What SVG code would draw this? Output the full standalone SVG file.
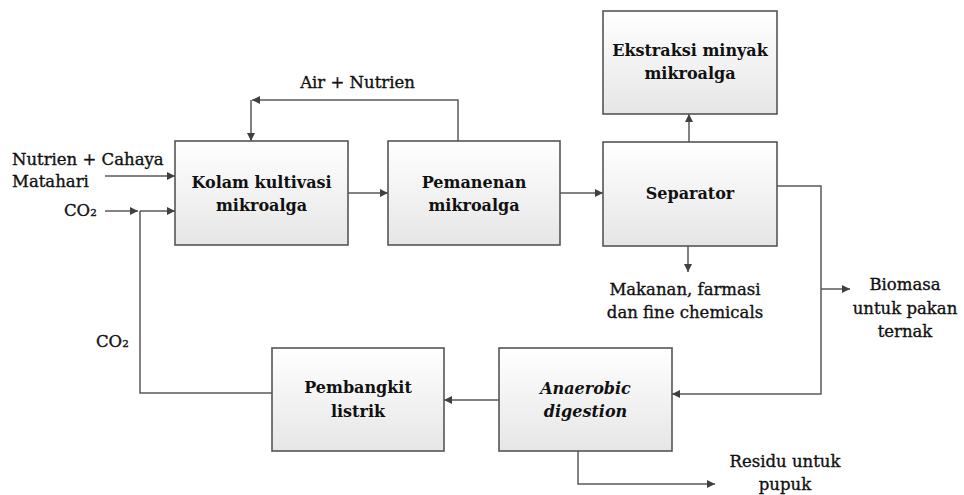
<svg xmlns="http://www.w3.org/2000/svg" width="964" height="495" viewBox="0 0 964 495">
<defs>
<linearGradient id="g" x1="0" y1="0" x2="0" y2="1">
<stop offset="0" stop-color="#ffffff"/>
<stop offset="1" stop-color="#e6e6e6"/>
</linearGradient>
<marker id="a" viewBox="0 0 10 10" refX="10" refY="5" markerWidth="8" markerHeight="8" markerUnits="userSpaceOnUse" orient="auto">
<path d="M0,0 L10,5 L0,10 z" fill="#404040"/>
</marker>
</defs>
<style>
.box{fill:url(#g);stroke:#555555;stroke-width:1.6}
.bt{font-family:"DejaVu Serif","Liberation Serif",serif;font-weight:bold;font-size:16px;fill:#111;text-anchor:middle}
.lt{font-family:"DejaVu Serif","Liberation Serif",serif;font-size:16.5px;fill:#111;stroke:#111;stroke-width:0.35}
.c{text-anchor:middle}
.ln{fill:none;stroke:#595959;stroke-width:1.5}
</style>
<rect width="964" height="495" fill="#fff"/>
<g id="connectors">
<path class="ln" d="M458,141 V100 H252" marker-end="url(#a)"/>
<path class="ln" d="M251,100 V141" marker-end="url(#a)"/>
<path class="ln" d="M105,176 H175" marker-end="url(#a)"/>
<path class="ln" d="M105,211 H138" marker-end="url(#a)"/>
<path class="ln" d="M140,211 H175" marker-end="url(#a)"/>
<path class="ln" d="M272,393 H140 V211"/>
<path class="ln" d="M348,193 H388" marker-end="url(#a)"/>
<path class="ln" d="M560,193 H603" marker-end="url(#a)"/>
<path class="ln" d="M689,142 V114" marker-end="url(#a)"/>
<path class="ln" d="M688,246 V272" marker-end="url(#a)"/>
<path class="ln" d="M777,186 H821 V394 H672" marker-end="url(#a)"/>
<path class="ln" d="M821,289 H850" marker-end="url(#a)"/>
<path class="ln" d="M499,400 H444" marker-end="url(#a)"/>
<path class="ln" d="M578,451 V484 H715" marker-end="url(#a)"/>
</g>
<g id="kolam">
<rect class="box" x="175" y="141" width="173" height="104"/>
<text class="bt" x="261.5" y="188">Kolam kultivasi</text>
<text class="bt" x="261.5" y="211">mikroalga</text>
</g>
<g id="pemanenan">
<rect class="box" x="388" y="141" width="172" height="104"/>
<text class="bt" x="474" y="188">Pemanenan</text>
<text class="bt" x="474" y="211">mikroalga</text>
</g>
<g id="separator">
<rect class="box" x="603" y="142" width="174" height="104"/>
<text class="bt" x="690" y="199">Separator</text>
</g>
<g id="ekstraksi">
<rect class="box" x="603" y="11" width="174" height="103"/>
<text class="bt" x="690" y="56">Ekstraksi minyak</text>
<text class="bt" x="690" y="79">mikroalga</text>
</g>
<g id="pembangkit">
<rect class="box" x="272" y="348" width="172" height="103"/>
<text class="bt" x="358" y="393">Pembangkit</text>
<text class="bt" x="358" y="417">listrik</text>
</g>
<g id="anaerobic">
<rect class="box" x="499" y="348" width="173" height="103"/>
<text class="bt" x="585.5" y="394" font-style="italic">Anaerobic</text>
<text class="bt" x="585.5" y="417" font-style="italic">digestion</text>
</g>
<g id="labels">
<text class="lt c" x="357.5" y="88">Air + Nutrien</text>
<text class="lt" x="12" y="165">Nutrien + Cahaya</text>
<text class="lt" x="12" y="187">Matahari</text>
<text class="lt" x="64" y="216">CO₂</text>
<text class="lt" x="96" y="347">CO₂</text>
<text class="lt c" x="685" y="295">Makanan, farmasi</text>
<text class="lt c" x="685" y="318">dan fine chemicals</text>
<text class="lt c" x="905" y="290">Biomasa</text>
<text class="lt c" x="905" y="314">untuk pakan</text>
<text class="lt c" x="905" y="337">ternak</text>
<text class="lt c" x="785" y="467">Residu untuk</text>
<text class="lt c" x="785" y="490">pupuk</text>
</g>
</svg>
